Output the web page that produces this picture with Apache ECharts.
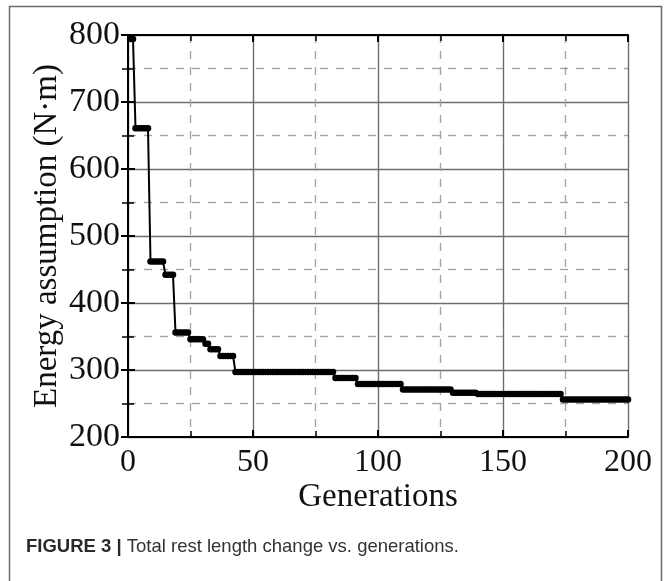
<!DOCTYPE html>
<html>
<head>
<meta charset="utf-8">
<script src="https://cdn.jsdelivr.net/npm/echarts@6/dist/echarts.min.js"></script>
<style>html,body{margin:0;padding:0;background:#fff}#c{width:668px;height:581px}</style>
</head>
<body>
<div id="c"></div>
<script>
// Data
const firstGeneration = 1;
const energy = [
  794,794,661,661,661,661,661,661,462,462,
  462,462,462,462,442,442,442,442,356,356,
  356,356,356,356,346,346,346,346,346,346,
  339,339,331,331,331,331,321,321,321,321,
  321,321,297,297,297,297,297,297,297,297,
  297,297,297,297,297,297,297,297,297,297,
  297,297,297,297,297,297,297,297,297,297,
  297,297,297,297,297,297,297,297,297,297,
  297,297,288,288,288,288,288,288,288,288,
  288,279,279,279,279,279,279,279,279,279,
  279,279,279,279,279,279,279,279,279,271,
  271,271,271,271,271,271,271,271,271,271,
  271,271,271,271,271,271,271,271,271,266,
  266,266,266,266,266,266,266,266,266,264,
  264,264,264,264,264,264,264,264,264,264,
  264,264,264,264,264,264,264,264,264,264,
  264,264,264,264,264,264,264,264,264,264,
  264,264,264,256,256,256,256,256,256,256,
  256,256,256,256,256,256,256,256,256,256,
  256,256,256,256,256,256,256,256,256,256
];
const xTicks = [0, 50, 100, 150, 200];
const yTicks = [200, 300, 400, 500, 600, 700, 800];
const xTitle = 'Generations';
const yTitle = 'Energy assumption (N\u00b7m)';
const captionBold = 'FIGURE 3 |';
const captionText = ' Total rest length change vs. generations.';

const seriesData = energy.map((v, i) => [firstGeneration + i, v]);

const serif = "'Liberation Serif', 'DejaVu Serif', serif";
const tickStyle = {show: true, inside: true, length: 7, lineStyle: {color: '#000', width: 2}};
const minorTickStyle = {show: true, splitNumber: 2, length: 6, lineStyle: {color: '#000', width: 1.5}};
const axisLineStyle = {show: true, lineStyle: {color: '#000', width: 2}};

const chart = echarts.init(document.getElementById('c'), null, {renderer: 'canvas'});
chart.setOption({
  animation: false,
  backgroundColor: '#fff',
  grid: {left: 128, top: 35, width: 500, height: 402, show: false},
  xAxis: [{
    type: 'value', min: xTicks[0], max: xTicks[xTicks.length - 1], interval: 50,
    position: 'bottom',
    axisLine: axisLineStyle, axisTick: tickStyle, minorTick: minorTickStyle,
    splitLine: {show: true, lineStyle: {color: '#6e6e6e', width: 1.4}},
    minorSplitLine: {show: true, lineStyle: {color: '#a6a6a6', width: 1.4, type: [8, 8]}},
    axisLabel: {fontFamily: serif, fontSize: 32, color: '#111', margin: 10},
    name: xTitle, nameLocation: 'middle', nameGap: 44, nameMoveOverlap: false,
    nameTextStyle: {fontFamily: serif, fontSize: 33, color: '#111', verticalAlign: 'top'}
  }, {
    type: 'value', min: xTicks[0], max: xTicks[xTicks.length - 1], interval: 50,
    position: 'top',
    axisLine: axisLineStyle, axisTick: tickStyle, minorTick: minorTickStyle,
    splitLine: {show: false}, axisLabel: {show: false}
  }],
  yAxis: [{
    type: 'value', min: yTicks[0], max: yTicks[yTicks.length - 1], interval: 100,
    position: 'left',
    axisLine: axisLineStyle, axisTick: tickStyle, minorTick: minorTickStyle,
    splitLine: {show: true, lineStyle: {color: '#6e6e6e', width: 1.4}},
    minorSplitLine: {show: true, lineStyle: {color: '#a6a6a6', width: 1.4, type: [8, 8]}},
    axisLabel: {fontFamily: serif, fontSize: 34, color: '#111', margin: 8, verticalAlign: 'middle', padding: [8, 0, 0, 0]},
    name: yTitle, nameLocation: 'middle', nameGap: 64, nameRotate: 90, nameMoveOverlap: false,
    nameTextStyle: {fontFamily: serif, fontSize: 33, color: '#111'}
  }, {
    type: 'value', min: yTicks[0], max: yTicks[yTicks.length - 1], interval: 100,
    position: 'right',
    axisLine: axisLineStyle, axisTick: tickStyle, minorTick: minorTickStyle,
    splitLine: {show: false}, axisLabel: {show: false}
  }],
  series: [{
    type: 'line',
    xAxisIndex: 0, yAxisIndex: 0,
    data: seriesData,
    symbol: 'circle', symbolSize: 6.5, showSymbol: true,
    lineStyle: {color: '#000', width: 2},
    itemStyle: {color: '#000'},
    z: 5
  }],
  graphic: [{
    type: 'rect', silent: true,
    shape: {x: 9.5, y: 6.5, width: 652, height: 620},
    style: {fill: 'none', stroke: '#6a6a6a', lineWidth: 1.5}
  }, {
    type: 'text', silent: true, left: 26, top: 537,
    style: {
      text: '{b|' + captionBold + '}{r|' + captionText + '}',
      rich: {
        b: {fontFamily: "'Liberation Sans Narrow', 'Liberation Sans', sans-serif", fontWeight: 'bold', fontSize: 18.5, fill: '#2a2a2a'},
        r: {fontFamily: "'Liberation Sans Narrow', 'Liberation Sans', sans-serif", fontSize: 18.5, fill: '#333'}
      }
    }
  }]
});
</script>
</body>
</html>
